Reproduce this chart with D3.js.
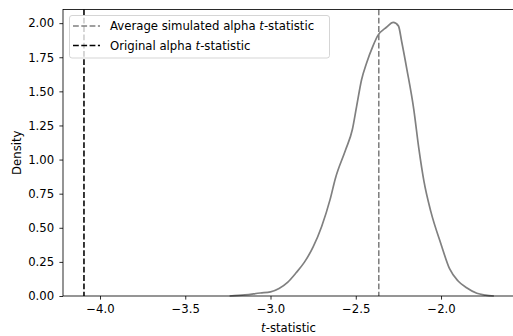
<!DOCTYPE html>
<html>
<head>
  <meta charset="utf-8">
  <script src="https://cdn.jsdelivr.net/npm/d3@7/dist/d3.min.js"></script>
  <style>
    body { margin: 0; background: white; }
    text { font-family: "DejaVu Sans", sans-serif; font-size: 11.7px; fill: black; }
  </style>
</head>
<body>
  <svg id="chart" width="513" height="336"></svg>

  <script>
    // KDE of simulated alpha t-statistics
    var tStat = [-3.24, -3.15, -3.06, -3.00, -2.95, -2.90, -2.85, -2.80, -2.75, -2.70, -2.65, -2.62, -2.56,
      -2.52, -2.495, -2.466, -2.436, -2.40, -2.37, -2.32, -2.28, -2.25, -2.23, -2.20, -2.16, -2.13, -2.10,
      -2.06, -2.00, -1.95, -1.90, -1.85, -1.79, -1.74, -1.69];
    var density = [0.000, 0.008, 0.022, 0.030, 0.055, 0.10, 0.17, 0.25, 0.36, 0.51, 0.71, 0.86, 1.07,
      1.22, 1.39, 1.585, 1.71, 1.83, 1.91, 1.97, 2.005, 1.98, 1.86, 1.66, 1.37, 1.08, 0.84,
      0.62, 0.38, 0.20, 0.11, 0.06, 0.02, 0.007, 0.000];

    var avgSimulated = -2.365;   // grey dashed line
    var originalAlpha = -4.094;  // black dashed line

    var xTicks = [-4.0, -3.5, -3.0, -2.5, -2.0];
    var yTicks = [0, 0.25, 0.5, 0.75, 1.0, 1.25, 1.5, 1.75, 2.0];

    var svg = d3.select('#chart');
    var margin = { left: 63, top: 9.5, right: 514, bottom: 296 };

    var x = d3.scaleLinear().domain([-4.217, -1.572]).range([margin.left, margin.right]);
    var y = d3.scaleLinear().domain([0, 2.1]).range([margin.bottom, margin.top]);

    // kde curve
    var line = d3.line()
      .x((d, i) => x(tStat[i]))
      .y(d => y(d))
      .curve(d3.curveMonotoneX);

    svg.append('path')
      .datum(density)
      .attr('fill', 'none')
      .attr('stroke', 'grey')
      .attr('stroke-width', 1.7)
      .attr('d', line);

    // vertical reference lines
    svg.append('line')
      .attr('x1', x(avgSimulated)).attr('x2', x(avgSimulated))
      .attr('y1', margin.top).attr('y2', margin.bottom)
      .attr('stroke', 'grey').attr('stroke-width', 1.56)
      .attr('stroke-dasharray', '5.8,2.5');

    svg.append('line')
      .attr('x1', x(originalAlpha)).attr('x2', x(originalAlpha))
      .attr('y1', margin.top).attr('y2', margin.bottom)
      .attr('stroke', 'black').attr('stroke-width', 1.56)
      .attr('stroke-dasharray', '5.8,2.5');

    // axes
    var xAxis = svg.append('g')
      .attr('transform', 'translate(0,' + margin.bottom + ')')
      .call(d3.axisBottom(x).tickValues(xTicks).tickSizeOuter(0).tickSize(3.6).tickPadding(5.2)
        .tickFormat(d => d3.format('.1f')(d).replace('-', '\u2212')));

    var yAxis = svg.append('g')
      .attr('transform', 'translate(' + margin.left + ',0)')
      .call(d3.axisLeft(y).tickValues(yTicks).tickSizeOuter(0).tickSize(3.6).tickPadding(5.2)
        .tickFormat(d3.format('.2f')));

    [xAxis, yAxis].forEach(g => {
      g.select('.domain').remove();
      g.selectAll('line').attr('stroke', 'black').attr('stroke-width', 0.83);
      g.selectAll('text').attr('font-family', 'DejaVu Sans').attr('font-size', '11.7px');
    });

    // spines
    svg.append('rect')
      .attr('x', margin.left).attr('y', margin.top)
      .attr('width', margin.right - margin.left).attr('height', margin.bottom - margin.top)
      .attr('fill', 'none').attr('stroke', 'black').attr('stroke-width', 0.83);

    // axis labels
    var xl = svg.append('text')
      .attr('x', (margin.left + margin.right) / 2).attr('y', 332)
      .attr('text-anchor', 'middle');
    xl.append('tspan').attr('font-style', 'italic').text('t');
    xl.append('tspan').text('-statistic');

    svg.append('text')
      .attr('transform', 'translate(21,' + ((margin.top + margin.bottom) / 2) + ') rotate(-90)')
      .attr('text-anchor', 'middle')
      .text('Density');

    // legend
    var legend = svg.append('g');
    legend.append('rect')
      .attr('x', 69.5).attr('y', 15.5).attr('width', 260).attr('height', 42.5)
      .attr('rx', 2.5)
      .attr('fill', 'white').attr('fill-opacity', 0.8)
      .attr('stroke', '#cccccc').attr('stroke-width', 0.83);

    var entries = [
      { color: 'grey', label: 'Average simulated alpha ' },
      { color: 'black', label: 'Original alpha ' }
    ];
    entries.forEach((e, i) => {
      var cy = 26 + i * 19.5;
      legend.append('line')
        .attr('x1', 73).attr('x2', 100).attr('y1', cy).attr('y2', cy)
        .attr('stroke', e.color).attr('stroke-width', 1.56)
        .attr('stroke-dasharray', '5.8,2.5');
      var t = legend.append('text').attr('x', 110).attr('y', cy + 4.2);
      t.append('tspan').text(e.label);
      t.append('tspan').attr('font-style', 'italic').text('t');
      t.append('tspan').text('-statistic');
    });
  </script>
</body>
</html>
